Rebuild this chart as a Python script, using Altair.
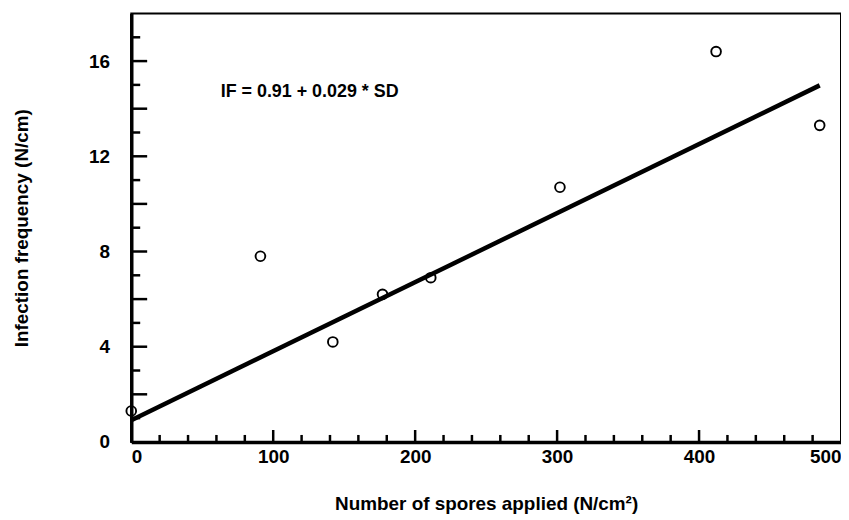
import altair as alt
import pandas as pd

# ---- data ----
spores = [0, 91, 142, 177, 211, 302, 412, 485]
infection = [1.3, 7.8, 4.2, 6.2, 6.9, 10.7, 16.4, 13.3]

fit_x = [0, 485]
fit_y = [0.91, 14.98]

ann_x = [63]
ann_y = [14.7]
ann_text = ["IF = 0.91 + 0.029 * SD"]

x_labels = [0, 100, 200, 300, 400, 500]
y_labels = [0, 4, 8, 12, 16]
x_major = [100, 200, 300, 400]
x_minor = [20, 40, 60, 80, 120, 140, 160, 180, 220, 240, 260, 280,
           320, 340, 360, 380, 420, 440, 460, 480]
y_major = [2, 4, 6, 8, 10, 12, 14, 16]
y_minor = [1, 3, 5, 7, 9, 11, 13, 15, 17]

W, H = 714, 431
FONT = "Liberation Sans"

xs = alt.Scale(domain=[0, 500], nice=False, zero=False)
ys = alt.Scale(domain=[0, 18], nice=False, zero=False)

pts = pd.DataFrame({"sd": spores, "inf": infection})
fit = pd.DataFrame({"sd": fit_x, "inf": fit_y})
ann = pd.DataFrame({"sd": ann_x, "inf": ann_y, "t": ann_text})

points = alt.Chart(pts).mark_point(
    shape="circle", filled=False, color="black", size=95, strokeWidth=1.9, opacity=1
).encode(
    x=alt.X("sd:Q", scale=xs, axis=alt.Axis(
        values=x_labels, title="Number of spores applied (N/cm²)",
        labelPadding=6, titlePadding=28, format="d")),
    y=alt.Y("inf:Q", scale=ys, axis=alt.Axis(
        values=y_labels, title="Infection frequency (N/cm)",
        labelPadding=22, titlePadding=57, format="d")),
)

line = alt.Chart(fit).mark_line(color="black", strokeWidth=4.5).encode(
    x=alt.X("sd:Q", scale=xs),
    y=alt.Y("inf:Q", scale=ys),
)

text = alt.Chart(ann).mark_text(
    align="left", baseline="middle", font=FONT, fontSize=18, fontWeight="bold", color="black"
).encode(
    x=alt.X("sd:Q", scale=xs),
    y=alt.Y("inf:Q", scale=ys),
    text="t:N",
)

def xticks(vals, length, width):
    return alt.Chart(pd.DataFrame({"sd": vals})).mark_rule(
        color="black", strokeWidth=width
    ).encode(
        x=alt.X("sd:Q", scale=xs),
        y=alt.value(H), y2=alt.value(H - length),
    )

def yticks(vals, length, width):
    return alt.Chart(pd.DataFrame({"inf": vals})).mark_rule(
        color="black", strokeWidth=width
    ).encode(
        y=alt.Y("inf:Q", scale=ys),
        x=alt.value(0), x2=alt.value(length),
    )

chart = alt.layer(
    points,
    xticks(x_major, 12, 2.5), xticks(x_minor, 7, 2.5),
    yticks(y_major, 16, 2.5), yticks(y_minor, 9, 2.5),
    line, text,
).properties(
    width=W, height=H,
    padding={"top": 4, "left": 4, "right": 0, "bottom": 0},
).configure_view(
    stroke="black", strokeWidth=2
).configure_axis(
    grid=False, ticks=False, tickSize=0,
    domainColor="black", domainWidth=3.5,
    labelFont=FONT, labelFontSize=19, labelFontWeight="bold", labelColor="black",
    titleFont=FONT, titleFontSize=19, titleFontWeight="bold", titleColor="black",
)

chart.save("out.html", embed_options={"renderer": "svg", "actions": False})
